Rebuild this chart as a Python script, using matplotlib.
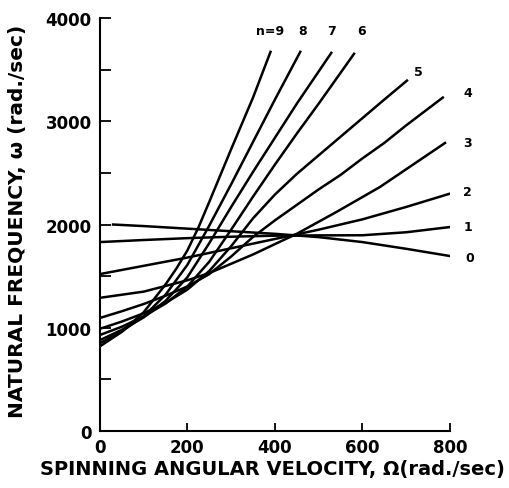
import matplotlib
matplotlib.use("Agg")
import matplotlib.pyplot as plt
from matplotlib.ticker import MultipleLocator

# readings: spin rate Omega (rad/s) -> natural frequency omega (rad/s)
n0_x = [30, 100, 200, 300, 400, 500, 600, 700, 800]
n0_y = [2000, 1985, 1960, 1935, 1910, 1878, 1830, 1765, 1695]

n1_x = [0, 100, 200, 300, 400, 500, 600, 700, 805]
n1_y = [1830, 1850, 1868, 1882, 1892, 1895, 1896, 1925, 1978]

n2_x = [0, 100, 200, 300, 400, 500, 600, 700, 807]
n2_y = [1520, 1600, 1680, 1770, 1860, 1950, 2050, 2170, 2308]

n3_x = [0, 100, 200, 250, 300, 350, 400, 450, 540, 640, 789]
n3_y = [1290, 1350, 1460, 1530, 1620, 1710, 1810, 1910, 2120, 2363, 2790]

n4_x = [0, 50, 100, 150, 200, 250, 300, 350, 400, 450, 500, 550, 600, 650, 700, 784]
n4_y = [1095, 1160, 1230, 1310, 1400, 1520, 1690, 1880, 2040, 2190, 2340, 2480,
        2640, 2790, 2960, 3230]

n5_x = [0, 50, 100, 150, 200, 250, 300, 350, 400, 450, 500, 550, 600, 650, 702]
n5_y = [990, 1060, 1140, 1240, 1370, 1550, 1790, 2060, 2290, 2490, 2670, 2850,
        3030, 3210, 3394]

n6_x = [0, 50, 100, 150, 200, 250, 300, 350, 400, 450, 500, 581]
n6_y = [930, 1010, 1110, 1235, 1400, 1640, 1950, 2270, 2580, 2880, 3170, 3654]

n7_x = [0, 50, 100, 150, 200, 250, 300, 350, 400, 450, 529]
n7_y = [880, 980, 1100, 1260, 1490, 1820, 2170, 2510, 2840, 3170, 3663]

n8_x = [0, 50, 100, 150, 200, 250, 300, 350, 400, 458]
n8_y = [850, 965, 1110, 1320, 1610, 1990, 2390, 2800, 3210, 3673]

n9_x = [0, 50, 100, 150, 175, 200, 225, 250, 300, 350, 390]
n9_y = [820, 960, 1150, 1420, 1575, 1750, 1970, 2220, 2730, 3230, 3673]

curves = [(n0_x, n0_y), (n1_x, n1_y), (n2_x, n2_y), (n3_x, n3_y), (n4_x, n4_y),
          (n5_x, n5_y), (n6_x, n6_y), (n7_x, n7_y), (n8_x, n8_y), (n9_x, n9_y)]

# curve labels and where they sit
labels = ["0", "1", "2", "3", "4", "5", "6", "7", "8", "n=9"]
label_x = [846, 841, 841, 841, 841, 729, 599, 530, 464, 389]
label_y = [1685, 1985, 2324, 2799, 3283, 3487, 3880, 3880, 3880, 3880]

fig = plt.figure(figsize=(5.10, 4.89), dpi=100)
ax = fig.add_axes([0.196, 0.1166, 0.686, 0.8444])

for xs, ys in curves:
    ax.plot(xs, ys, color="black", lw=1.8, solid_joinstyle="round")

for t, lx, ly in zip(labels, label_x, label_y):
    ax.text(lx, ly, t, fontsize=9, fontweight="bold", ha="center", va="center",
            clip_on=False)

ax.set_xlim(0, 800)
ax.set_ylim(0, 4000)
ax.spines["top"].set_visible(False)
ax.spines["right"].set_visible(False)
ax.spines["left"].set_linewidth(1.5)
ax.spines["bottom"].set_linewidth(1.5)

ax.xaxis.set_major_locator(MultipleLocator(200))
ax.yaxis.set_major_locator(MultipleLocator(1000))
ax.yaxis.set_minor_locator(MultipleLocator(500))
ax.tick_params(axis="x", direction="in", length=6, width=1.3, pad=5,
               labelsize=12)
ax.tick_params(axis="y", which="both", direction="in", length=8, width=1.3,
               pad=6, labelsize=12)
for lab in ax.get_xticklabels() + ax.get_yticklabels():
    lab.set_fontweight("bold")

ax.set_xlabel("SPINNING ANGULAR VELOCITY, \u03a9(rad./sec)", fontsize=14,
              fontweight="bold")
ax.set_ylabel("NATURAL FREQUENCY, \u03c9 (rad./sec)", fontsize=14.5,
              fontweight="bold")
ax.xaxis.set_label_coords(0.494, -0.092)
ax.xaxis.label.set_va("center")
ax.yaxis.set_label_coords(-0.237, 0.51)
ax.yaxis.label.set_va("center")

fig.savefig("out.png", dpi=100)
